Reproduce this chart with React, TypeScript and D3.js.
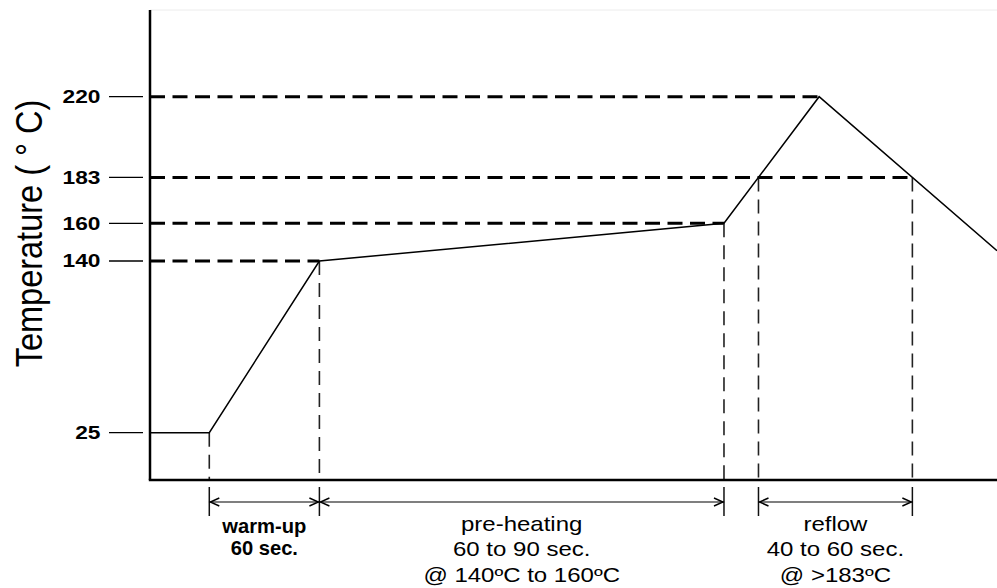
import React from "react";
import * as d3 from "d3";

// ---- data ----
const tempTicks = [25, 140, 160, 183, 220];
const profileTime = [0, 21, 60, 203.3, 237, 300]; // schematic time units
const profileTemp = [25, 25, 140, 160, 220, 145.5];
const reflowTemp = 183;
const phaseNames = ["warm-up", "pre-heating", "reflow"];
const phaseDurations = ["60 sec.", "60 to 90 sec.", "40 to 60 sec."];
const phaseConditions = ["", "@ 140ºC to 160ºC", "@ >183ºC"];
const yLabel = "Temperature ( ° C)";

// ---- layout ----
const W = 997;
const H = 588;
const left = 150;
const right = 997;
const top = 10;
const bottom = 480;
const FONT = "'Liberation Sans', Arial, Helvetica, sans-serif";

const x = d3.scaleLinear().domain([0, 300]).range([left, right]);
// schematic (non-uniform) temperature axis
const y = d3
  .scaleLinear()
  .domain(tempTicks)
  .range([432.7, 261, 223.3, 177.4, 96.7]);

const pts: [number, number][] = profileTime.map((t, i) => [x(t), y(profileTemp[i])]);

function crossings(temp: number): number[] {
  const yc = y(temp);
  const res: number[] = [];
  for (let i = 0; i < pts.length - 1; i++) {
    const [x0, y0] = pts[i];
    const [x1, y1] = pts[i + 1];
    if (y0 === y1) continue;
    if ((y0 - yc) * (y1 - yc) <= 0) {
      const xc = x0 + ((yc - y0) / (y1 - y0)) * (x1 - x0);
      if (!res.some((r) => Math.abs(r - xc) < 0.5)) res.push(xc);
    }
  }
  return res;
}

export default function App() {
  const line = d3.line<[number, number]>()(pts) || "";
  const reflowX = crossings(reflowTemp);
  const reflowStart = reflowX[0];
  const reflowEnd = reflowX[reflowX.length - 1];

  const guides = tempTicks.slice(1).map((t) => {
    const c = crossings(t);
    const xe = t === reflowTemp ? c[c.length - 1] : c[0];
    return { t, xe };
  });

  const verticals: [number, number][] = [
    pts[1],
    pts[2],
    pts[3],
    [reflowStart, y(reflowTemp)],
    [reflowEnd, y(reflowTemp)],
  ];

  const spans: [number, number][] = [
    [pts[1][0], pts[2][0]],
    [pts[2][0], pts[3][0]],
    [reflowStart, reflowEnd],
  ];

  const arrowY = 502;
  const ah = 10;
  const aw = 4;

  return (
    <svg
      width={W}
      height={H}
      style={{ position: "absolute", left: 0, top: 0, background: "#fff" }}
      fontFamily={FONT}
    >
      {/* faint top frame */}
      <line x1={left} x2={right} y1={top} y2={top} stroke="#ececec" strokeWidth={1} />

      {/* horizontal dashed guides */}
      {guides.map((g) => (
        <line
          key={g.t}
          x1={left}
          x2={g.xe}
          y1={y(g.t)}
          y2={y(g.t)}
          stroke="#000"
          strokeWidth={3}
          strokeDasharray="15 7.5"
        />
      ))}

      {/* vertical dashed lines */}
      {verticals.map(([vx, vy], i) => (
        <line
          key={i}
          x1={vx}
          x2={vx}
          y1={vy}
          y2={bottom}
          stroke="#222"
          strokeWidth={1.6}
          strokeDasharray="14 8"
        />
      ))}

      {/* profile */}
      <path d={line} fill="none" stroke="#000" strokeWidth={1.5} />

      {/* axes */}
      <line x1={left} x2={left} y1={top} y2={bottom} stroke="#000" strokeWidth={2.5} />
      <line x1={left - 1.2} x2={right} y1={bottom} y2={bottom} stroke="#000" strokeWidth={2.5} />

      {/* y ticks */}
      {tempTicks.map((t) => (
        <g key={t}>
          <line x1={109} x2={143} y1={y(t)} y2={y(t)} stroke="#000" strokeWidth={1.3} />
          <text
            transform={`translate(100.5,${y(t)}) scale(1.3,1)`}
            textAnchor="end"
            dy="0.36em"
            fontSize={17.5}
            fontWeight="bold"
          >
            {t}
          </text>
        </g>
      ))}

      {/* y label */}
      <text
        transform={`translate(42,233.5) scale(1.16,1) rotate(-90)`}
        textAnchor="middle"
        fontSize={32.5}
      >
        {yLabel}
      </text>

      {/* extension ticks */}
      {verticals.map(([vx], i) => (
        <line key={"e" + i} x1={vx} x2={vx} y1={487} y2={516} stroke="#111" strokeWidth={1.5} />
      ))}

      {/* dimension arrows */}
      {spans.map(([a, b], i) => (
        <g key={"s" + i} stroke="#000" fill="none" strokeWidth={1.4}>
          <line x1={a} x2={b} y1={arrowY} y2={arrowY} strokeWidth={1.2} />
          <path d={`M${a + ah},${arrowY - aw} L${a + 1},${arrowY} L${a + ah},${arrowY + aw}`} />
          <path d={`M${b - ah},${arrowY - aw} L${b - 1},${arrowY} L${b - ah},${arrowY + aw}`} />
        </g>
      ))}

      {/* phase labels */}
      {spans.map(([a, b], i) => {
        const cx = (a + b) / 2;
        const bold = i === 0;
        const fs = bold ? 21 : 20;
        const sx = bold ? 0.96 : 1.2;
        const lines = [phaseNames[i], phaseDurations[i], phaseConditions[i]].filter((s) => s);
        const baselines = bold ? [532.5, 555] : [531, 556, 582];
        return (
          <g key={"l" + i}>
            {lines.map((s, j) => (
              <text
                key={j}
                transform={`translate(${cx},${baselines[j]}) scale(${sx},1)`}
                textAnchor="middle"
                fontSize={fs}
                fontWeight={bold ? "bold" : "normal"}
              >
                {s}
              </text>
            ))}
          </g>
        );
      })}
    </svg>
  );
}
